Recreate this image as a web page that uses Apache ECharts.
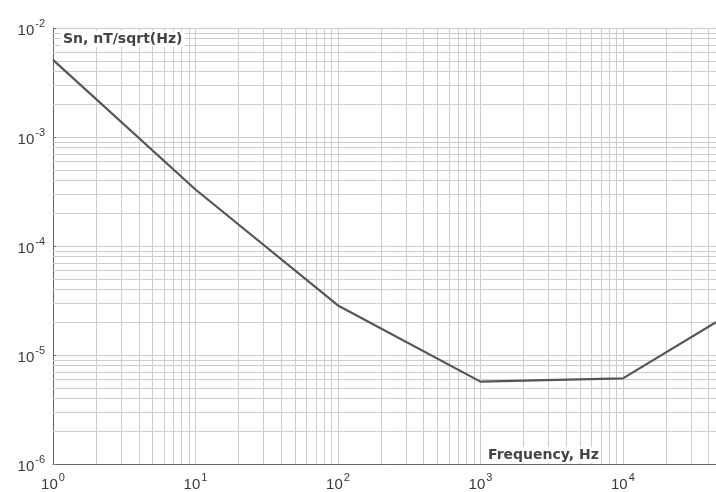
<!DOCTYPE html>
<html>
<head>
<meta charset="utf-8">
<script src="https://cdn.jsdelivr.net/npm/echarts@6/dist/echarts.min.js"></script>
<style>
  html, body { margin: 0; padding: 0; background: #ffffff; }
  #chart { width: 716px; height: 492px; }
</style>
</head>
<body>
<div id="chart"></div>
<script>
// Magnetometer noise spectral density, nT/sqrt(Hz), against frequency
const frequencies = [1, 10, 100, 1000, 10000, 45000];
const noiseDensity = [5.1e-3, 3.3e-4, 2.85e-5, 5.7e-6, 6.1e-6, 2.0e-5];

// Axis ranges (log scales)
const xRange = [1, 45000];
const yRange = [1e-6, 1e-2];

// Minor grid multipliers within each decade
const minorSteps = [2, 3, 4, 5, 6, 7, 8, 9];

function minorValues(lo, hi) {
  const out = [];
  for (let d = lo; d < hi; d *= 10) {
    for (const m of minorSteps) {
      const v = d * m;
      if (v < hi) out.push(v);
    }
  }
  return out;
}

const xMinor = minorValues(xRange[0], xRange[1]);
const yMinor = minorValues(yRange[0], yRange[1]);

function powerLabel(v) {
  const e = Math.round(Math.log10(v));
  return '{b|10}{s|' + e + '}';
}

const FONT = 'Liberation Sans, Arial, sans-serif';
const labelRich = {
  b: { fontSize: 15, fontFamily: FONT, color: '#3a3a3a', lineHeight: 20, verticalAlign: 'bottom' },
  s: { fontSize: 11, fontFamily: FONT, color: '#3a3a3a', lineHeight: 20, verticalAlign: 'top', padding: [0, 0, 0, 1] }
};

const gridColor = '#cdcdcd';

// Minor grid lines, each spanning the full plot between the axis limits
const minorLines = xMinor.map(v => [{ coord: [v, yRange[0]] }, { coord: [v, yRange[1]] }])
  .concat(yMinor.map(v => [{ coord: [xRange[0], v] }, { coord: [xRange[1], v] }]));

const chart = echarts.init(document.getElementById('chart'), null, { renderer: 'canvas' });

chart.setOption({
  animation: false,
  backgroundColor: '#ffffff',
  grid: { left: 53, right: 0, top: 28, bottom: 27, containLabel: false },
  xAxis: {
    type: 'log',
    logBase: 10,
    min: xRange[0],
    max: xRange[1],
    axisLine: { show: true, lineStyle: { color: '#666', width: 1 } },
    axisTick: { show: false },
    splitLine: { show: true, lineStyle: { color: gridColor, width: 1 } },
    axisLabel: {
      margin: 8,
      formatter: powerLabel,
      rich: labelRich,
      showMaxLabel: false
    }
  },
  yAxis: {
    type: 'log',
    logBase: 10,
    min: yRange[0],
    max: yRange[1],
    axisLine: { show: true, lineStyle: { color: '#666', width: 1 } },
    axisTick: { show: true, inside: true, length: 3, lineStyle: { color: '#777' } },
    splitLine: { show: true, lineStyle: { color: gridColor, width: 1 } },
    axisLabel: {
      margin: 8,
      formatter: powerLabel,
      rich: labelRich
    }
  },
  series: [
    {
      type: 'line',
      data: frequencies.map((f, i) => [f, noiseDensity[i]]),
      showSymbol: false,
      symbol: 'none',
      lineStyle: { color: '#555555', width: 2.2 },
      z: 5,
      markLine: {
        silent: true,
        symbol: 'none',
        label: { show: false },
        lineStyle: { color: gridColor, width: 1, type: 'solid' },
        emphasis: { disabled: true },
        data: minorLines
      }
    }
  ],
  graphic: [
    {
      type: 'text',
      left: 61,
      top: 31,
      z: 10,
      style: {
        text: 'Sn, nT/sqrt(Hz)',
        font: 'bold 14px DejaVu Sans, Verdana, sans-serif',
        fill: '#444',
        backgroundColor: '#ffffff',
        padding: [1, 2, 1, 2]
      }
    },
    {
      type: 'text',
      left: 486,
      top: 447,
      z: 10,
      style: {
        text: 'Frequency, Hz',
        font: 'bold 14px DejaVu Sans, Verdana, sans-serif',
        fill: '#444',
        backgroundColor: '#ffffff',
        padding: [1, 2, 1, 2]
      }
    }
  ]
});
</script>
</body>
</html>
